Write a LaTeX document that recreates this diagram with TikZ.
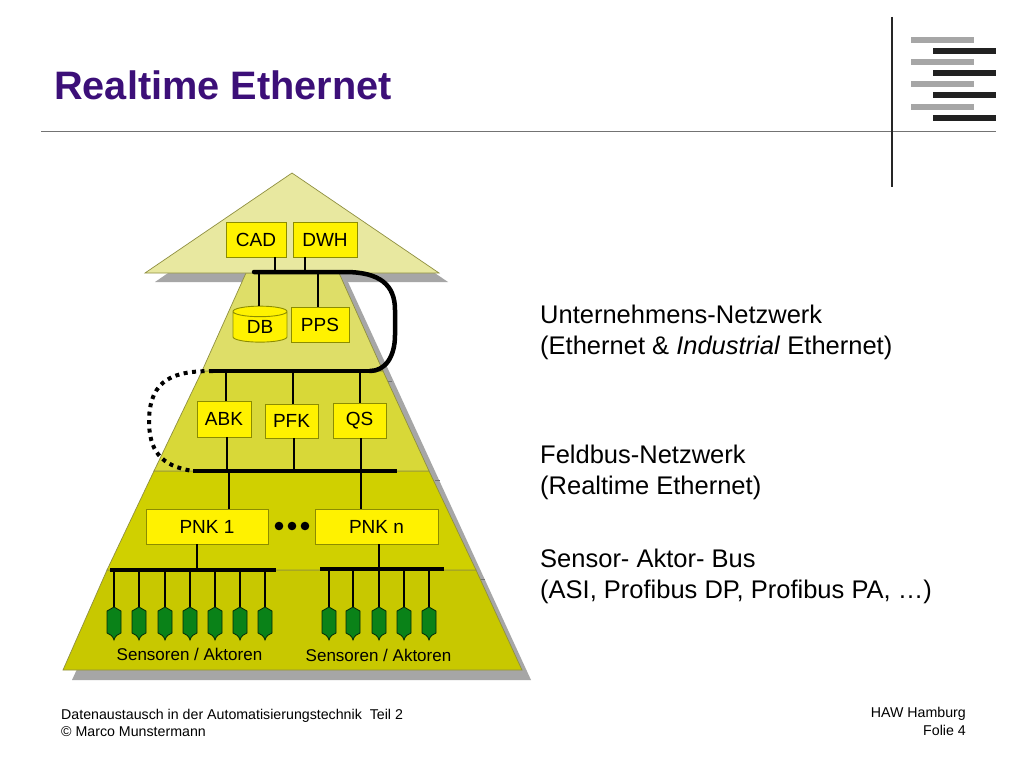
\documentclass[tikz,border=0pt]{standalone}
\usepackage{fontspec}
\setmainfont{Liberation Sans}
\usetikzlibrary{shapes.geometric}
\definecolor{titlecol}{HTML}{3C0F78}
\definecolor{layera}{HTML}{E8E8A0}
\definecolor{layerb}{HTML}{DEDE68}
\definecolor{layerc}{HTML}{D8D838}
\definecolor{layerd}{HTML}{D0D000}
\definecolor{layere}{HTML}{C8C800}
\definecolor{layerline}{HTML}{8F8F40}
\definecolor{boxline}{HTML}{8C8C00}
\definecolor{sensorcol}{HTML}{0A8218}
\tikzset{
	layer/.style={draw=layerline,line width=0.7pt},
	device/.style={draw=boxline,fill=yellow,line width=0.9pt,inner sep=0pt,font=\fontsize{19}{21}\selectfont},
	bus/.style={line width=4.5pt},
	stub/.style={line width=2.3pt},
	sidetext/.style={anchor=base west,inner sep=0pt,font=\fontsize{25.5}{28}\selectfont},
	foot/.style={inner sep=0pt,font=\fontsize{14.2}{16}\selectfont},
	sensortext/.style={inner sep=0pt,font=\fontsize{17}{19}\selectfont},
}
\begin{document}
\begin{tikzpicture}[x=1pt,y=-1pt]
	\useasboundingbox (0,0) rectangle (1024,768);
	\fill[white] (0,0) rectangle (1024,768);
	% kopf
	\node[anchor=west,inner sep=0pt,text=titlecol,font=\fontsize{39.7}{42}\selectfont\bfseries] (title) at (54,85) {Realtime Ethernet};
	\coordinate (hl) at (41,131);
	\coordinate (hr) at (996,131);
	\coordinate (vt) at (892,17);
	\coordinate (vb) at (892,187);
	\draw[black!55,line width=1pt] (hl)--(hr);
	\draw[black!85,line width=1.2pt] (vt)--(vb);
	\foreach \y in {40,62,84,107}{
		\fill[black!35] (911,\y-3) rectangle (974,\y+3);
		\fill[black!87] (933,\y+8) rectangle (996,\y+14);
	}
	% schatten
	\fill[black!35] (348,282)--(531,680)--(72,680)--(256,282)--cycle;
	\fill[black!35] (301,182)--(448,282)--(155,282)--cycle;
	\foreach \xa/\xb/\y in {388/392/381,435/440/480,480/485/579}{
		\draw[black!55,line width=0.7pt] (\xa,\y)--(\xb,\y);
	}
	% pyramide
	\draw[layer,fill=layere] (107,570)--(476,570)--(522,670)--(63,670)--cycle;
	\draw[layer,fill=layerd] (154,471)--(429,471)--(476,570)--(107,570)--cycle;
	\draw[layer,fill=layerc] (202,371)--(383,371)--(429,471)--(154,471)--cycle;
	\draw[layer,fill=layerb] (246,273)--(339,273)--(383,371)--(202,371)--cycle;
	\draw[layer,fill=layera] (292,173)--(439,273)--(145,273)--cycle;
	% geraete
	\node[device,minimum width=60pt,minimum height=35pt] (cad) at (256,239.5) {CAD};
	\node[device,minimum width=64pt,minimum height=35pt] (dwh) at (325,239.5) {DWH};
	\node[device,minimum width=58pt,minimum height=35pt] (pps) at (320,324.5) {PPS};
	\node[device,cylinder,shape border rotate=90,aspect=0.4,minimum width=54pt,minimum height=36pt] (db) at (260,327) {DB};
	\node[device,minimum width=54pt,minimum height=36pt] (abk) at (224,419) {ABK};
	\node[device,minimum width=53pt,minimum height=34pt] (pfk) at (291.5,421) {PFK};
	\node[device,minimum width=53pt,minimum height=35pt] (qs) at (359.5,420.5) {QS};
	\node[device,minimum width=122pt,minimum height=35pt] (pnka) at (207,526.5) {PNK 1};
	\node[device,minimum width=123pt,minimum height=35pt] (pnkn) at (376.5,526.5) {PNK n};
	% busse
	\coordinate (busal) at (254,272);
	\coordinate (busbl) at (213,371);
	\coordinate (busbr) at (370,371);
	\coordinate (buscl) at (193,471);
	\coordinate (buscr) at (397,471);
	\coordinate (busdl) at (110,570);
	\coordinate (busdr) at (276,570);
	\coordinate (busel) at (320,569);
	\coordinate (buser) at (444,569);
	\draw[bus,line cap=round] (busal)--(345,272) .. controls (380,272) and (395,285) .. (395,310)--(395,335) .. controls (395,357) and (385,371) .. (busbr);
	\draw[bus] (busbl)--(busbr);
	\draw[bus] (buscl)--(buscr);
	\draw[bus] (busdl)--(busdr);
	\draw[bus] (busel)--(buser);
	\draw[line width=4pt,dash pattern=on 4pt off 4.5pt] (busbl) .. controls (175,371) and (150,378) .. (149,420) .. controls (149,450) and (160,466) .. (buscl);
	% stichleitungen
	\foreach \x/\a/\y in {275/cad.south/272,305/dwh.south/272,259/db.north/272,318/pps.north/272,226/abk.north/371,293/pfk.north/371,360/qs.north/371,227/abk.south/471,294/pfk.south/471,361/qs.south/471,229/pnka.north/471,361/pnkn.north/471,197/pnka.south/570,379/pnkn.south/569}{
		\coordinate (tap) at (\x,\y);
		\draw[stub] (tap)--(tap |- \a);
	}
	% sensoren
	\foreach \x/\y in {114/570,139/570,165/570,190/570,215/570,240/570,265/570,329/569,353/569,379/569,404/569,429/569}{
		\coordinate (bustap) at (\x,\y);
		\coordinate (sens) at (\x,607);
		\draw[stub] (bustap)--(sens);
		\draw[black!70!sensorcol,fill=sensorcol,line width=0.8pt,shift={(sens)}] (0,0)--(7,4)--(7,26) .. controls (4,27) and (1,29) .. (0,33) .. controls (-1,29) and (-4,27) .. (-7,26)--(-7,4)--cycle;
	}
	\node[sensortext] (sensa) at (189.5,654) {Sensoren / Aktoren};
	\node[sensortext] (sensb) at (378.5,655) {Sensoren / Aktoren};
	% punkte
	\foreach \x in {279,292,305}{
		\fill (\x,526) circle (4.3);
	}
	% rechte texte
	\node[sidetext] (una) at (540,323) {Unternehmens-Netzwerk};
	\node[sidetext] (unb) at (540,354) {(Ethernet \& \textit{Industrial} Ethernet)};
	\node[sidetext] (fea) at (540,463) {Feldbus-Netzwerk};
	\node[sidetext] (feb) at (540,494) {(Realtime Ethernet)};
	\node[sidetext] (saa) at (540,567) {Sensor- Aktor- Bus};
	\node[sidetext] (sab) at (540,598) {(ASI, Profibus DP, Profibus PA, …)};
	% fuss
	\node[foot,anchor=base west] (fla) at (61,719) {Datenaustausch in der Automatisierungstechnik\ \ Teil 2};
	\node[foot,anchor=base west] (flb) at (61,736) {© Marco Munstermann};
	\node[foot,anchor=base east] (fra) at (966,717) {HAW Hamburg};
	\node[foot,anchor=base east] (frb) at (966,735) {Folie 4};
\end{tikzpicture}
\end{document}
